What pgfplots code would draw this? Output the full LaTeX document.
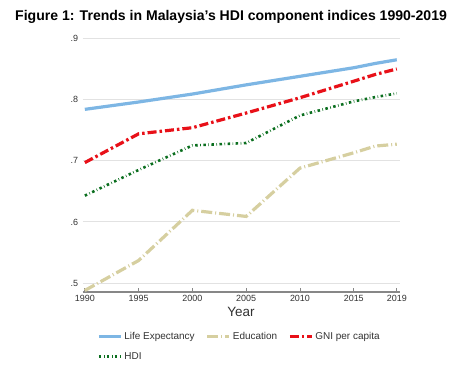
\documentclass[border=0pt]{standalone}
\usepackage{pgfplots}
\pgfplotsset{compat=1.18}
\usepackage{fontspec}
\setmainfont{Liberation Sans}
\definecolor{lifeblue}{RGB}{125,182,228}
\definecolor{edusand}{RGB}{214,207,160}
\definecolor{gnired}{RGB}{232,16,24}
\definecolor{hdigreen}{RGB}{10,110,30}
\definecolor{gridgray}{RGB}{226,226,226}
\definecolor{axisgray}{RGB}{135,135,135}
\definecolor{labelgray}{RGB}{50,50,50}
\begin{document}
\begin{tikzpicture}[x=1bp,y=1bp]
\useasboundingbox (0,0) rectangle (474,378);
\node[anchor=base west, inner sep=0pt, font=\bfseries\fontsize{14.1}{16}\selectfont] at (15,357.3) {Figure 1: Trends in Malaysia’s HDI component indices 1990-2019};
\begin{axis}[
  at={(82.7bp,85.7bp)}, anchor=south west,
  width=317.3bp, height=257bp, scale only axis,
  xmin=1989.8, xmax=2019.3, ymin=0.485, ymax=0.905,
  axis x line*=bottom, axis y line*=left,
  x axis line style={draw=axisgray, line width=2bp, -},
  y axis line style={draw=none},
  xtick={1990,1995,2000,2005,2010,2015,2019},
  xticklabels={1990,1995,2000,2005,2010,2015,2019},
  ytick={0.5,0.6,0.7,0.8,0.9},
  yticklabels={.5,.6,.7,.8,.9},
  tick align=inside, major tick length=4bp,
  xtick style={draw=axisgray, line width=0.8bp},
  ytick style={draw=none},
  ymajorgrids, grid style={gridgray, line width=0.9bp},
  /pgf/number format/assume math mode=true,
  ticklabel style={font=\fontsize{9}{10}\selectfont, text=labelgray},
  xticklabel style={yshift=1bp},
  yticklabel style={xshift=-1bp},
  xlabel={Year},
  xlabel style={font=\fontsize{13.5}{15}\selectfont, text=labelgray, at={(axis description cs:0.499,0)}, anchor=base, yshift=-23.7bp},
  legend columns=3,
  legend cell align=left,
  legend image code/.code={\draw[#1] (0bp,0bp) -- (22bp,0bp);},
  legend style={at={(axis description cs:0.045,-0.148)}, anchor=north west, draw=none, fill=none, inner sep=0pt,
    font=\fontsize{10}{11.5}\selectfont, text=labelgray, row sep=7bp,
    /tikz/every even column/.append style={column sep=9bp}},
]
\addplot[lifeblue, line width=3.2bp] coordinates {
(1990,0.784) (1995,0.796) (2000,0.809) (2005,0.824) (2010,0.838) (2015,0.852) (2017,0.859) (2019,0.865)};
\addlegendentry{Life Expectancy}
\addplot[edusand, line width=3.2bp, dash pattern=on 11bp off 3bp on 1bp off 3bp] coordinates {
(1990,0.488) (1995,0.537) (2000,0.619) (2005,0.609) (2010,0.688) (2015,0.713) (2017,0.724) (2019,0.727)};
\addlegendentry{Education}
\addplot[gnired, line width=3.2bp, dash pattern=on 9bp off 3bp on 2.5bp off 3bp] coordinates {
(1990,0.697) (1995,0.744) (2000,0.754) (2005,0.778) (2010,0.803) (2015,0.830) (2017,0.841) (2019,0.850)};
\addlegendentry{GNI per capita}
\addplot[hdigreen, line width=2.6bp, dash pattern=on 2.5bp off 2.5bp on 0.6bp off 2.5bp] coordinates {
(1990,0.643) (1995,0.685) (2000,0.725) (2005,0.729) (2010,0.774) (2015,0.797) (2017,0.804) (2019,0.810)};
\addlegendentry{HDI}
\end{axis}
\end{tikzpicture}
\end{document}
